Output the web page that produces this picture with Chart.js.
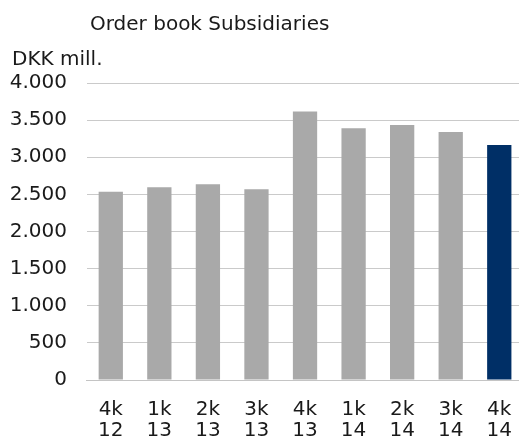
<!DOCTYPE html>
<html>
<head>
<meta charset="utf-8">
<script src="https://cdn.jsdelivr.net/npm/chart.js@4"></script>
<style>
  html, body { margin: 0; padding: 0; background: #ffffff; overflow: hidden; }
  #wrap { position: relative; width: 531px; height: 438px; }
</style>
</head>
<body>
<div id="wrap"><canvas id="chart" width="531" height="438"></canvas></div>
<script>
// Order book of the subsidiaries by quarter, DKK million
const quarters = [['4k','12'],['1k','13'],['2k','13'],['3k','13'],['4k','13'],['1k','14'],['2k','14'],['3k','14'],['4k','14']];
const orderBook = [2535, 2595, 2635, 2570, 3615, 3390, 3435, 3340, 3165];
const barColors = ['#a9a9a9','#a9a9a9','#a9a9a9','#a9a9a9','#a9a9a9','#a9a9a9','#a9a9a9','#a9a9a9','#002f66'];
const titleText = 'Order book Subsidiaries';
const unitText = 'DKK mill.';

const FONT = 'DejaVu Sans';
const FONT_SIZE = 20;

// Title and unit caption drawn above the plot
const headerText = {
  id: 'headerText',
  afterDraw(chart) {
    const ctx = chart.ctx;
    ctx.save();
    ctx.fillStyle = '#1a1a1a';
    ctx.font = FONT_SIZE + 'px "DejaVu Sans"';
    ctx.textBaseline = 'middle';
    ctx.textAlign = 'left';
    ctx.fillText(titleText, 90, 25);
    ctx.fillText(unitText, 12, 60);
    ctx.restore();
  }
};

function draw() {
  new Chart(document.getElementById('chart'), {
    type: 'bar',
    data: {
      labels: quarters,
      datasets: [{
        data: orderBook,
        backgroundColor: barColors,
        borderWidth: 0,
        barPercentage: 0.5,
        categoryPercentage: 1.0
      }]
    },
    options: {
      responsive: false,
      animation: false,
      layout: { padding: { top: 83, left: 0, right: 0, bottom: 0 } },
      plugins: { legend: { display: false }, tooltip: { enabled: false } },
      scales: {
        x: {
          afterFit(scale) { scale.height = 58; },
          grid: { display: false, drawTicks: false },
          border: { display: true, color: '#c4c4c4', width: 1 },
          ticks: {
            color: '#1a1a1a',
            font: { family: FONT, size: FONT_SIZE, lineHeight: 1.05 },
            padding: 19,
            maxRotation: 0,
            autoSkip: false
          }
        },
        y: {
          min: 0,
          max: 4000,
          afterFit(scale) { scale.width = 86.5; },
          grid: { color: '#cacaca', lineWidth: 1, drawTicks: false },
          border: { display: false },
          ticks: {
            stepSize: 500,
            color: '#1a1a1a',
            font: { family: FONT, size: FONT_SIZE },
            padding: 19.5,
            callback: v => v.toLocaleString('de-DE')
          }
        }
      }
    },
    plugins: [headerText]
  });
}

if (document.fonts && document.fonts.load) {
  document.fonts.load(FONT_SIZE + 'px "DejaVu Sans"').then(draw, draw);
} else {
  draw();
}
</script>
</body>
</html>
